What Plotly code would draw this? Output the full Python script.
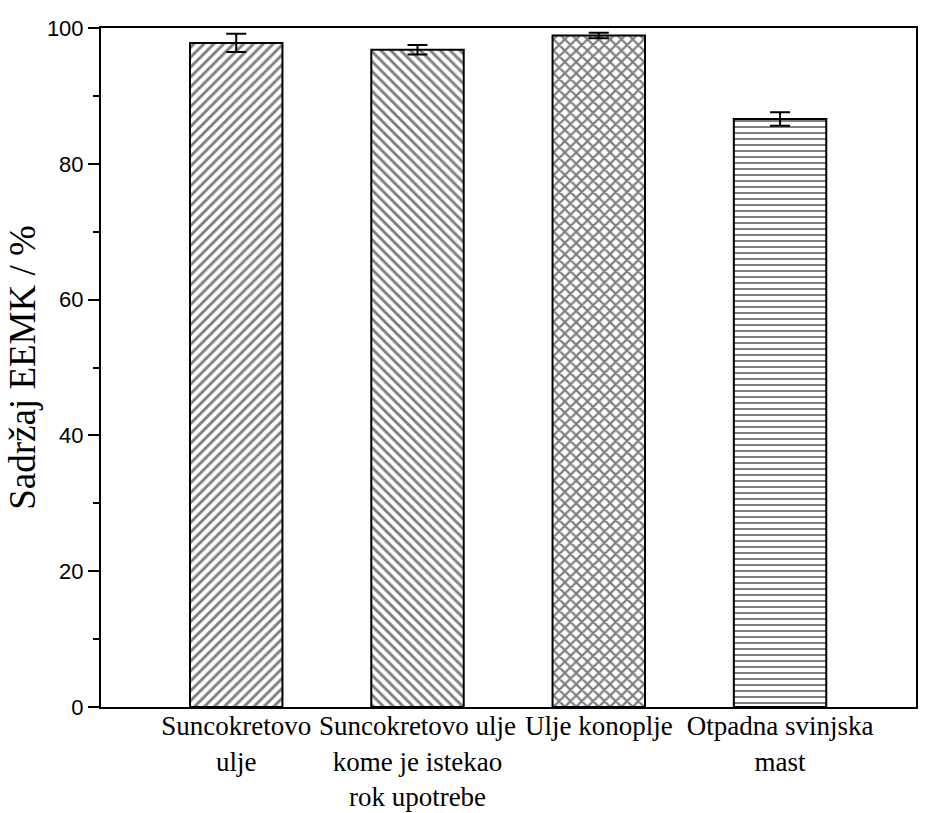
import plotly.graph_objects as go

categories = ["Suncokretovo<br>ulje", "Suncokretovo ulje<br>kome je istekao<br>rok upotrebe",
              "Ulje konoplje", "Otpadna svinjska<br>mast"]
values = [97.8, 96.8, 98.9, 86.6]
errors = [1.35, 0.7, 0.4, 1.0]
patterns = ["/", "\\", "x", "-"]
pattern_sizes = [7, 7, 8, 6]
pattern_solidity = [0.42, 0.42, 0.47, 0.33]
y_ticks = [0, 20, 40, 60, 80, 100]

fig = go.Figure()
fig.add_trace(go.Bar(
    x=list(range(len(categories))),
    y=values,
    width=0.51,
    marker=dict(
        color="white",
        line=dict(color="black", width=2),
        pattern=dict(shape=patterns, size=pattern_sizes, solidity=pattern_solidity,
                     fgcolor="black", bgcolor="white"),
    ),
    error_y=dict(type="data", array=errors, visible=True, color="black",
                 thickness=2, width=10),
    showlegend=False,
))

fig.update_layout(
    width=941, height=813,
    margin=dict(l=101, r=25, t=28, b=106),
    paper_bgcolor="white", plot_bgcolor="white",
    bargap=0.49,
)
fig.update_xaxes(
    range=[-0.746, 3.75],
    tickmode="array", tickvals=list(range(len(categories))), ticktext=categories,
    ticks="", showgrid=False, zeroline=False, automargin=False,
    ticklabelstandoff=-6,
    showline=True, linecolor="black", linewidth=2, mirror=True,
    tickfont=dict(family="Liberation Serif", size=27, color="black"),
)
fig.update_yaxes(
    range=[0, 100], automargin=False,
    tickmode="array", tickvals=y_ticks,
    ticks="outside", ticklen=11, tickwidth=2, tickcolor="black",
    minor=dict(dtick=10, tick0=0, ticks="outside", ticklen=6, tickwidth=2, tickcolor="black"),
    showgrid=False, zeroline=False,
    showline=True, linecolor="black", linewidth=2, mirror=True,
    tickfont=dict(family="Liberation Sans", size=22, color="black"),
    title=dict(text="Sadržaj EEMK / %", standoff=0,
               font=dict(family="Liberation Serif", size=37, color="black")),
)

fig.write_html("out.html")
